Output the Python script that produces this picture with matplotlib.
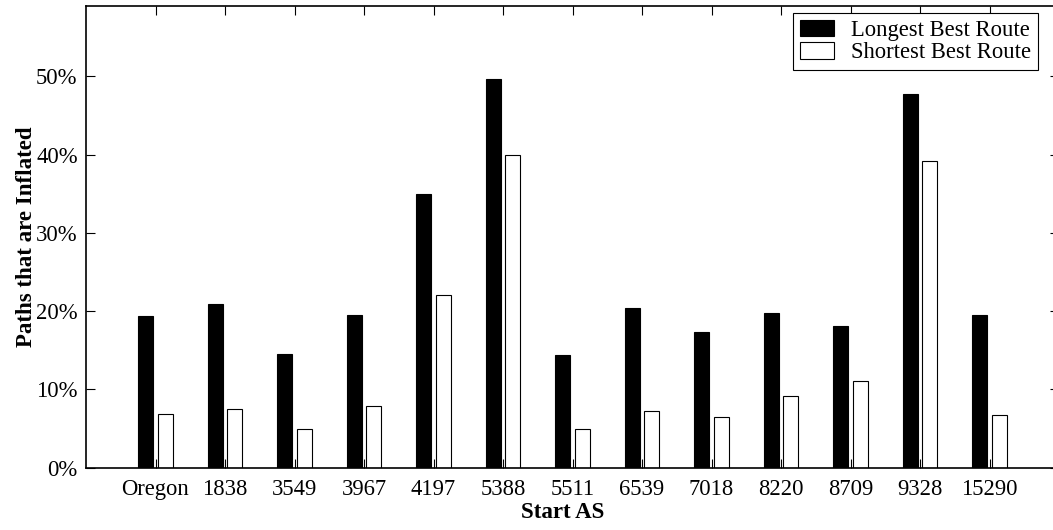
import numpy as np
import matplotlib
matplotlib.use("Agg")
import matplotlib.pyplot as plt
from matplotlib.ticker import FuncFormatter

# datos
start_as = ["Oregon", "1838", "3549", "3967", "4197", "5388", "5511",
            "6539", "7018", "8220", "8709", "9328", "15290"]
longest = [19.4, 20.9, 14.5, 19.5, 35.0, 49.7, 14.4, 20.4, 17.3, 19.8, 18.1, 47.7, 19.5]
shortest = [6.8, 7.5, 5.0, 7.9, 22.1, 40.0, 4.9, 7.3, 6.5, 9.2, 11.1, 39.2, 6.7]

plt.rcParams["font.family"] = ["Liberation Serif", "DejaVu Serif"]

W, H = 1053, 530
fig = plt.figure(figsize=(W / 100, H / 100), dpi=100)
# ejes en pixeles: izquierda 86, derecha 1059, arriba 6, abajo 467.7
ax = fig.add_axes([86 / W, (H - 467.7) / H, (1059 - 86) / W, (467.7 - 6) / H])

x = np.arange(1, len(start_as) + 1)
ancho = 0.22
ax.bar(x - 0.14, longest, ancho, color="black", edgecolor="black", linewidth=0.8,
       label="Longest Best Route")
ax.bar(x + 0.14, shortest, ancho, color="white", edgecolor="black", linewidth=0.8,
       label="Shortest Best Route")

ax.set_xlim(0, 14)
ax.set_ylim(0, 59)
ax.set_xticks(x)
ax.set_xticklabels(start_as)
ax.set_yticks([0, 10, 20, 30, 40, 50])
ax.yaxis.set_major_formatter(FuncFormatter(lambda v, p: "%d%%" % v))

ax.tick_params(direction="in", length=6.5, width=0.8, top=True, right=True,
               labelsize=16.3)
ax.tick_params(axis="x", pad=8)
ax.tick_params(axis="y", pad=6)
for s in ax.spines.values():
    s.set_linewidth(1.2)

ax.set_xlabel("Start AS", fontsize=16.5, fontweight="bold")
ax.set_ylabel("Paths that are Inflated", fontsize=16.5, fontweight="bold")
ax.xaxis.set_label_coords(0.49, -0.074)
ax.yaxis.set_label_coords(-0.05, 0.5)

leg = ax.legend(loc="upper right", bbox_to_anchor=(1038 / W, 1 - 13 / H),
                bbox_transform=fig.transFigure, borderaxespad=0, fontsize=16.3,
                fancybox=False, framealpha=1, edgecolor="black",
                handlelength=1.5, handleheight=0.75, handletextpad=0.75,
                labelspacing=0.05, borderpad=0.3)
leg.get_frame().set_linewidth(0.8)

fig.savefig("out.png", dpi=100)
